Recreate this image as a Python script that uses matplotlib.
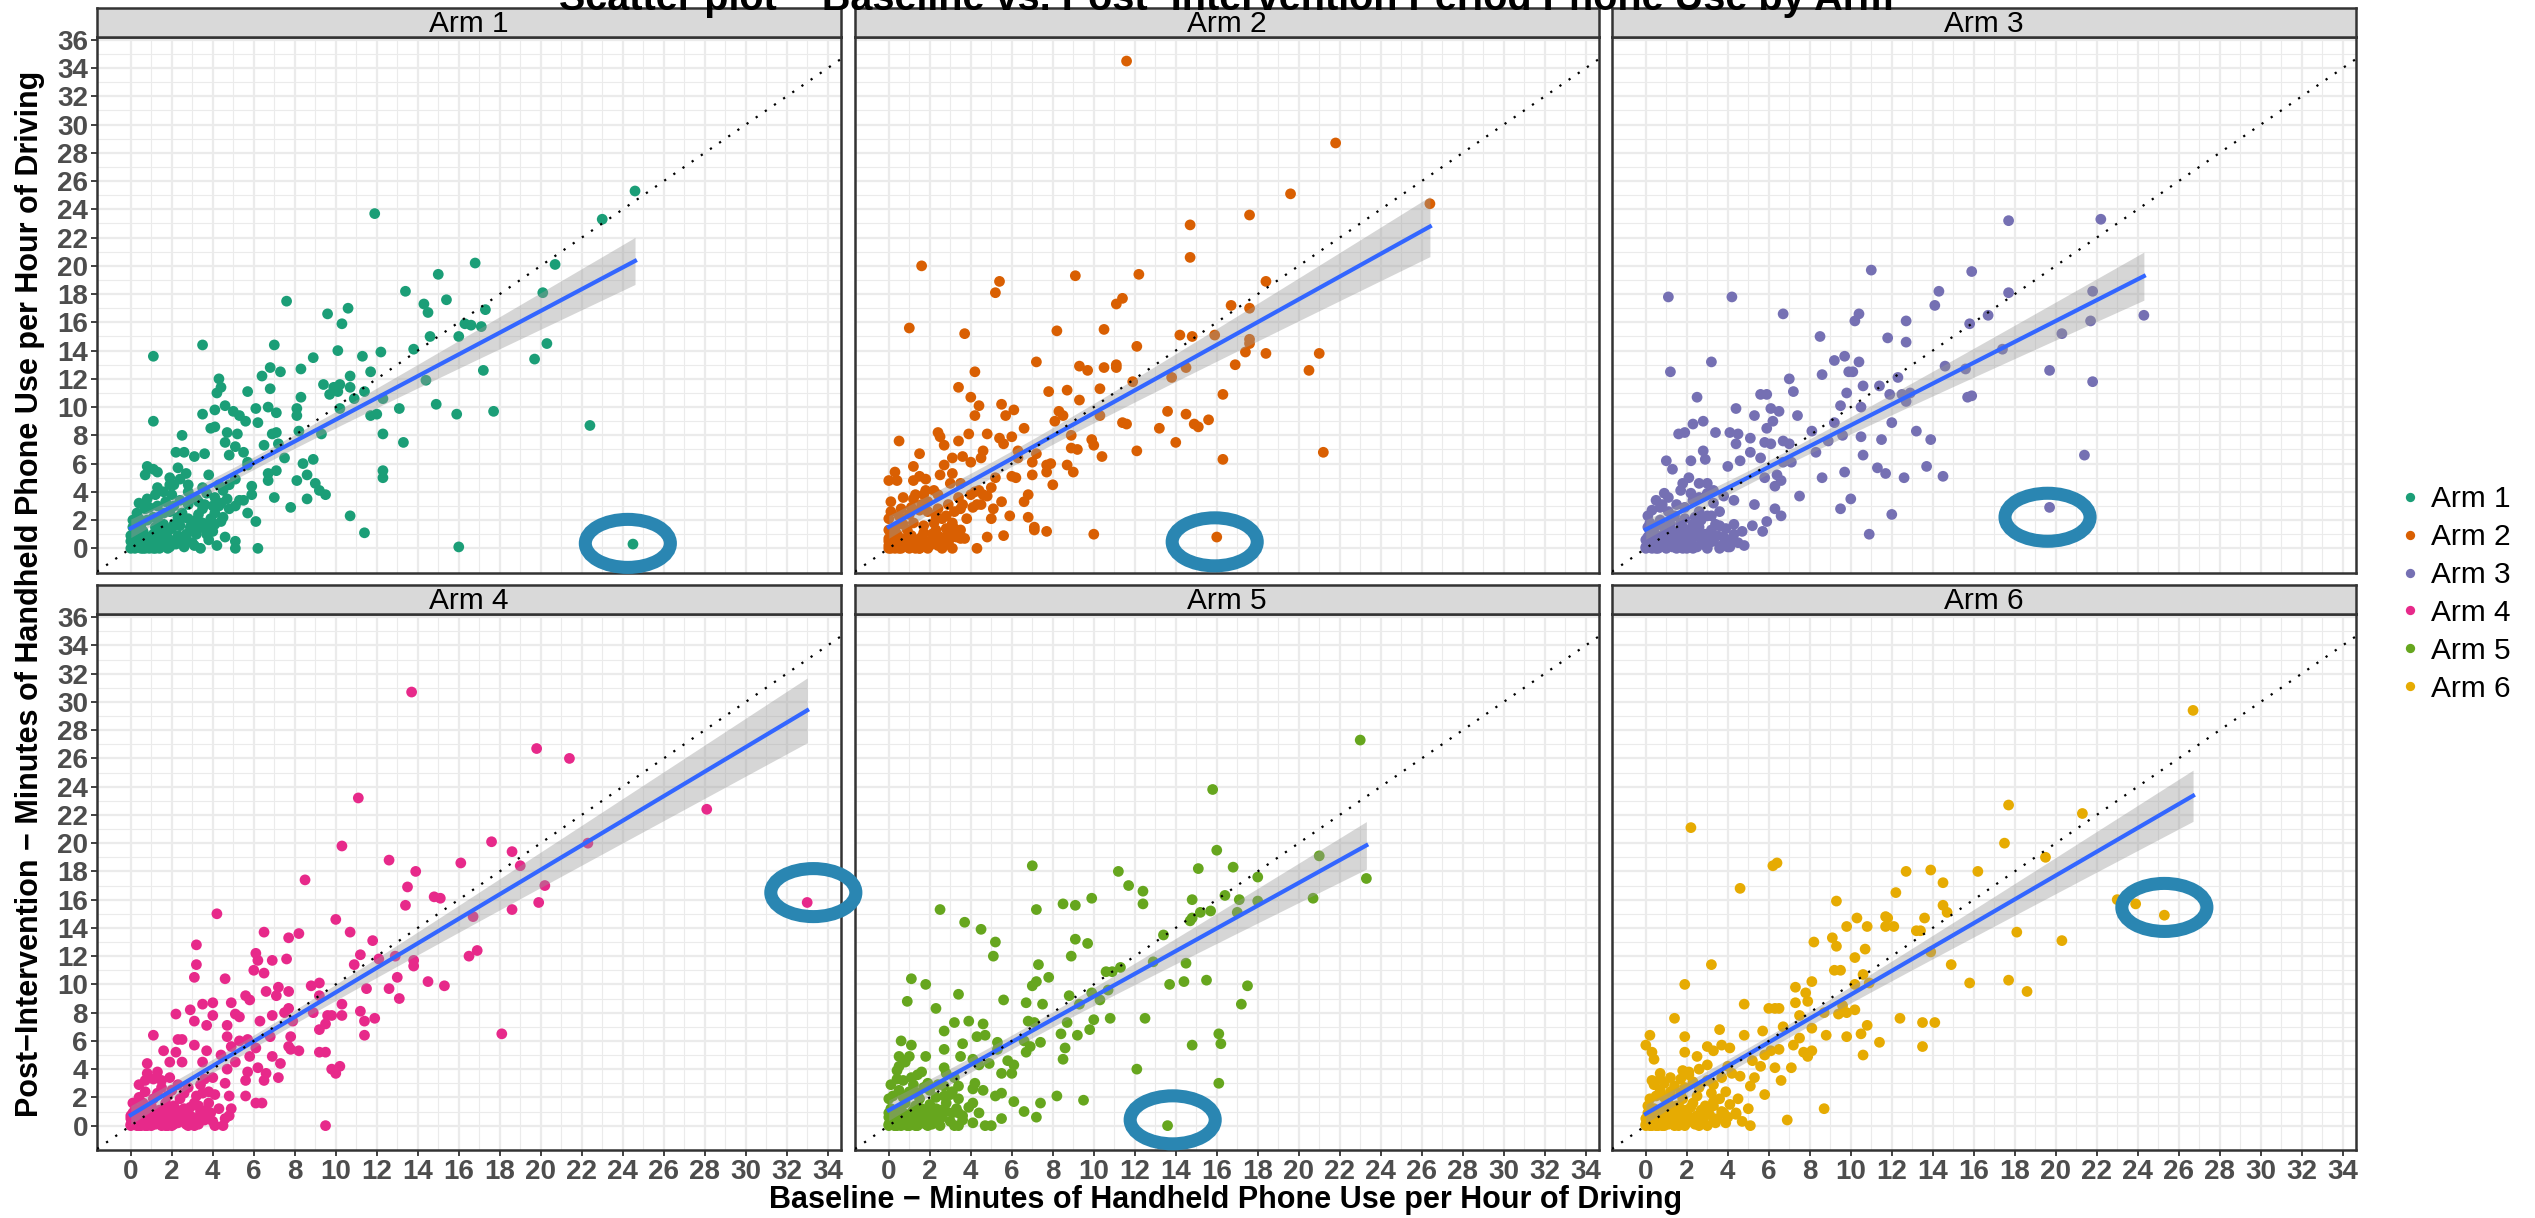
import numpy as np
import matplotlib.pyplot as plt
from matplotlib.patches import Ellipse
from matplotlib.lines import Line2D

plt.rcParams['font.family'] = ['Liberation Sans', 'DejaVu Sans']

arms = ['Arm 1', 'Arm 2', 'Arm 3', 'Arm 4', 'Arm 5', 'Arm 6']
arm_colors = ['#1B9E77', '#D95F02', '#7570B3', '#E7298A', '#66A61E', '#E6AB02']

# (baseline, post-intervention) minutes of handheld use per hour of driving
arm1 = np.array([
    (24.6, 25.3), (23.0, 23.3), (11.9, 23.7), (16.8, 20.2), (20.7, 20.1), (15.0, 19.4), (20.1, 18.1), (13.4, 18.2),
    (14.3, 17.3), (15.4, 17.6), (7.6, 17.5), (10.6, 17.0), (9.6, 16.6), (14.5, 16.7), (17.3, 16.9), (10.3, 15.9),
    (16.3, 15.9), (16.6, 15.8), (17.1, 15.7), (14.6, 15.0), (16.0, 15.0), (20.3, 14.5), (3.5, 14.4), (7.0, 14.4),
    (1.1, 13.6), (19.7, 13.4), (13.8, 14.1), (10.1, 14.0), (11.3, 13.6), (12.2, 13.9), (8.9, 13.5), (8.3, 12.7),
    (6.8, 12.8), (7.3, 12.5), (11.7, 12.5), (17.2, 12.6), (6.4, 12.2), (10.7, 12.2), (14.4, 11.9), (4.3, 12.0),
    (4.4, 11.4), (9.4, 11.6), (9.9, 11.4), (10.2, 11.6), (10.7, 11.4), (9.7, 10.9), (10.1, 11.1), (11.4, 11.1),
    (4.2, 11.0), (5.7, 11.1), (6.8, 11.3), (8.3, 10.7), (10.9, 10.6), (12.3, 10.6), (14.9, 10.2), (13.1, 9.9),
    (4.6, 10.1), (4.1, 9.8), (5.0, 9.7), (3.5, 9.5), (6.1, 9.9), (6.7, 10.0), (7.1, 9.6), (8.1, 9.9), (8.1, 9.4),
    (5.3, 9.4), (5.6, 9.0), (6.2, 8.9), (1.1, 9.0), (10.2, 9.9), (12.0, 9.5), (11.7, 9.4), (15.9, 9.5), (17.7, 9.7),
    (22.4, 8.7), (4.1, 8.6), (3.9, 8.5), (4.7, 8.2), (6.9, 8.1), (7.1, 8.2), (8.2, 8.3), (9.3, 8.1), (5.2, 8.1),
    (2.5, 8.0), (12.3, 8.1), (13.3, 7.5), (4.6, 7.5), (5.1, 7.2), (6.5, 7.3), (7.2, 7.4), (5.5, 6.8), (4.8, 6.6),
    (2.2, 6.8), (2.6, 6.8), (3.6, 6.7), (3.1, 6.5), (7.5, 6.4), (8.9, 6.3), (8.4, 6.0), (5.7, 6.1), (0.8, 5.8),
    (1.1, 5.6), (1.3, 5.4), (2.3, 5.7), (0.7, 5.2), (3.8, 5.2), (7.1, 5.5), (8.6, 5.2), (6.7, 5.3), (12.3, 5.5),
    (12.3, 5.0), (5.7, 5.9), (1.9, 5.0), (1.9, 4.5), (1.3, 4.3), (4.3, 4.5), (6.7, 4.8), (8.1, 4.8), (9.0, 4.6),
    (5.9, 4.4), (9.2, 4.1), (9.5, 3.8), (2.8, 4.0), (3.0, 3.6), (5.5, 3.4), (7.0, 3.6), (8.6, 3.5), (5.9, 3.8),
    (0.4, 3.2), (7.8, 2.9), (5.7, 2.5), (10.7, 2.3), (6.1, 1.9), (11.4, 1.1), (5.1, 0.5), (5.1, 0.0), (6.2, 0.0),
    (16.0, 0.1), (24.5, 0.3),
    (0.0, 0.5), (0.1, 0.1), (0.4, 0.2), (0.7, 0.0), (1.1, 0.0), (0.3, 1.0), (0.6, 1.2), (0.9, 0.8), (1.2, 1.5),
    (1.5, 1.0), (1.6, 0.6), (2.1, 0.5), (1.8, 1.2), (2.1, 1.7), (2.4, 2.0), (2.5, 2.5), (2.7, 1.0), (2.9, 1.5),
    (3.2, 2.0), (3.3, 2.4), (3.5, 2.8), (3.7, 1.0), (3.7, 1.5), (3.9, 2.1), (4.1, 1.7), (4.1, 2.5), (4.3, 3.0),
    (4.4, 3.2), (4.0, 3.0), (3.6, 3.1), (3.3, 3.3), (3.2, 3.5), (2.8, 3.1), (2.4, 3.4), (2.1, 3.0), (1.9, 2.6),
    (1.6, 2.5), (1.3, 2.1), (1.1, 2.2), (0.8, 2.0), (0.5, 1.7), (0.4, 2.1), (0.7, 2.8), (0.9, 2.9), (1.3, 3.0),
    (1.7, 3.3), (2.0, 3.8), (1.6, 4.0), (1.2, 3.8), (0.8, 3.5), (0.6, 3.1), (0.3, 2.5), (0.1, 1.5), (0.1, 2.0),
    (1.3, 0.2), (1.9, 0.1), (2.5, 0.5), (3.1, 0.2), (0.9, 0.5), (0.5, 0.6), (1.6, 1.7), (2.3, 2.2), (2.8, 2.1),
    (3.3, 1.4), (3.9, 1.5), (4.5, 2.2), (4.8, 2.8), (5.1, 3.0), (5.3, 3.4), (4.7, 3.5), (4.1, 3.6), (3.7, 3.9),
    (3.5, 4.3), (2.8, 4.5), (2.4, 4.9), (2.7, 5.3), (2.1, 4.5), (4.5, 4.1), (4.8, 4.5), (5.1, 4.9),
    (0.0, 0.0), (0.1, 0.3), (0.2, 0.0), (0.3, 0.6), (0.4, 0.3), (0.5, 0.0), (0.6, 0.4), (0.7, 0.8), (0.8, 0.2),
    (0.9, 0.0), (1.0, 0.5), (1.1, 1.0), (1.2, 0.3), (1.3, 0.7), (1.4, 0.0), (1.5, 1.3), (1.6, 0.4), (1.7, 0.9),
    (1.8, 0.0), (1.9, 0.6), (2.0, 1.4), (2.2, 0.3), (2.3, 0.9), (2.4, 1.6), (2.6, 0.1), (2.7, 0.7), (2.9, 1.2),
    (3.0, 0.4), (3.2, 1.0), (3.4, 0.0), (3.5, 1.8), (3.8, 0.6), (4.0, 1.2), (4.2, 0.2), (4.4, 1.9), (4.6, 0.8),
    (0.2, 1.2), (0.5, 1.4), (0.0, 0.9), (0.3, 0.1), (0.6, 0.0), (1.0, 0.2), (1.2, 0.0), (0.8, 0.6), (0.4, 0.5),
])

arm2 = np.array([
    (11.6, 34.5), (21.8, 28.7), (19.6, 25.1), (26.4, 24.4), (17.6, 23.6), (14.7, 22.9), (14.7, 20.6), (1.6, 20.0),
    (9.1, 19.3), (12.2, 19.4), (5.4, 18.9), (5.2, 18.1), (18.4, 18.9), (11.4, 17.7), (11.1, 17.3), (16.7, 17.2),
    (17.6, 17.0), (1.0, 15.6), (3.7, 15.2), (8.2, 15.4), (10.5, 15.5), (14.2, 15.1), (14.8, 15.0), (15.9, 15.1),
    (17.6, 14.8), (17.6, 14.5), (12.1, 14.3), (17.4, 13.9), (18.4, 13.8), (21.0, 13.8), (7.2, 13.2), (9.3, 12.9),
    (9.7, 12.6), (10.5, 12.8), (11.1, 13.0), (11.1, 12.8), (16.9, 13.0), (20.5, 12.6), (14.5, 12.8), (4.2, 12.5),
    (11.9, 11.8), (13.8, 12.1), (3.4, 11.4), (7.8, 11.1), (8.7, 11.2), (10.3, 11.3), (4.0, 10.7), (9.3, 10.5),
    (4.4, 10.1), (5.5, 10.2), (6.1, 9.8), (5.7, 9.4), (4.2, 9.4), (8.3, 9.7), (8.5, 9.4), (8.1, 9.0), (10.3, 9.4),
    (13.6, 9.7), (14.5, 9.5), (16.3, 10.9), (15.6, 9.1), (14.9, 8.8), (15.1, 8.6), (11.4, 8.9), (11.6, 8.8),
    (13.2, 8.5), (6.6, 8.5), (2.4, 8.2), (2.5, 7.9), (3.9, 8.1), (4.8, 8.1), (5.4, 7.8), (5.6, 7.4), (6.0, 7.9),
    (0.5, 7.6), (3.4, 7.6), (2.7, 7.3), (8.9, 8.0), (9.9, 7.7), (10.0, 7.3), (14.0, 7.5), (8.9, 7.1), (9.2, 7.0),
    (12.1, 6.9), (21.2, 6.8), (16.3, 6.3), (1.5, 6.7), (3.1, 6.4), (3.6, 6.5), (4.6, 6.9), (4.5, 6.4), (6.3, 6.9),
    (7.2, 6.7), (10.4, 6.5), (2.7, 5.9), (4.0, 6.1), (6.3, 6.4), (7.0, 6.1), (7.7, 5.9), (7.9, 6.0), (8.7, 5.9),
    (9.0, 5.4), (1.2, 5.8), (0.3, 5.4), (2.5, 5.2), (3.1, 5.3), (1.5, 5.1), (1.2, 4.8), (0.0, 4.8), (0.4, 4.8),
    (1.8, 4.9), (3.5, 4.6), (5.2, 5.0), (6.0, 5.1), (6.2, 5.0), (7.0, 5.2), (7.7, 5.4), (8.0, 4.5), (5.0, 4.3),
    (0.1, 3.3), (1.2, 3.5), (1.8, 4.1), (2.4, 3.8), (3.0, 4.6), (4.2, 4.0), (4.4, 4.1), (4.8, 3.7), (6.6, 3.3),
    (6.8, 3.8), (5.5, 3.3), (4.5, 3.1), (3.5, 2.8), (4.1, 2.9), (5.1, 2.8), (5.9, 2.3), (6.8, 2.2), (5.0, 2.1),
    (7.1, 1.5), (7.1, 1.3), (7.7, 1.2), (10.0, 1.0), (5.6, 0.9), (4.8, 0.8), (3.5, 0.7), (3.7, 0.7), (2.0, 0.2),
    (4.3, 0.0), (16.0, 0.8),
    (0.0, 0.0), (0.3, 0.3), (0.5, 0.0), (0.7, 0.2), (1.0, 0.0), (0.0, 0.5), (0.1, 0.8), (0.4, 1.0), (0.6, 0.7),
    (0.9, 1.3), (1.1, 0.9), (1.3, 0.5), (1.6, 0.8), (1.8, 0.3), (2.1, 1.0), (2.3, 1.3), (2.5, 0.8), (2.8, 1.4),
    (2.9, 1.0), (3.1, 1.8), (3.2, 1.4), (2.6, 2.1), (2.2, 1.8), (1.7, 1.6), (1.2, 1.8), (0.7, 1.7), (0.3, 1.4),
    (0.0, 2.1), (0.5, 2.3), (1.0, 2.4), (1.5, 2.7), (1.9, 2.6), (2.4, 2.8), (2.9, 3.1), (3.4, 3.6), (3.2, 2.6),
    (2.8, 2.3), (2.3, 2.3), (1.6, 3.1), (1.1, 2.9), (0.6, 2.8), (0.1, 2.6), (0.7, 3.6), (1.3, 3.8), (1.9, 3.3),
    (2.2, 4.1), (1.7, 3.8), (0.0, 1.3), (1.5, 0.0), (3.0, 0.7), (3.5, 1.3), (3.8, 2.1), (4.3, 3.1), (4.0, 3.8),
    (4.6, 3.8), (3.6, 3.1),
    (0.0, 0.2), (0.1, 0.0), (0.2, 0.4), (0.3, 0.0), (0.4, 0.7), (0.5, 0.3), (0.6, 0.0), (0.8, 0.5), (0.9, 0.1),
    (1.0, 0.9), (1.2, 0.2), (1.3, 0.0), (1.4, 0.6), (1.6, 0.2), (1.7, 1.1), (1.9, 0.0), (2.0, 0.5), (2.2, 0.9),
    (2.4, 0.2), (2.6, 0.0), (2.7, 0.6), (2.9, 0.3), (3.1, 0.0), (3.3, 0.8), (0.2, 0.9), (0.0, 0.7), (0.7, 0.3),
    (1.1, 0.4), (1.5, 0.0), (2.3, 0.4),
])

arm3 = np.array([
    (17.7, 23.2), (22.2, 23.3), (11.0, 19.7), (15.9, 19.6), (14.3, 18.2), (17.7, 18.1), (21.8, 18.2), (14.1, 17.2),
    (1.1, 17.8), (4.2, 17.8), (6.7, 16.6), (16.7, 16.5), (10.4, 16.6), (10.2, 16.1), (12.7, 16.1), (15.8, 15.9),
    (24.3, 16.5), (21.7, 16.1), (20.3, 15.2), (8.5, 15.0), (11.8, 14.9), (12.7, 14.6), (17.4, 14.1), (3.2, 13.2),
    (1.2, 12.5), (9.2, 13.3), (9.7, 13.6), (10.4, 13.2), (9.9, 12.5), (10.1, 12.5), (8.6, 12.3), (14.6, 12.9),
    (15.6, 12.7), (19.7, 12.6), (21.8, 11.8), (7.0, 12.0), (12.3, 12.1), (11.4, 11.5), (10.6, 11.5), (7.2, 11.1),
    (9.8, 11.0), (11.9, 10.9), (12.5, 10.9), (12.9, 11.0), (12.7, 10.4), (15.7, 10.7), (15.9, 10.8), (2.5, 10.7),
    (5.6, 10.9), (5.9, 10.9), (4.4, 9.9), (6.1, 9.9), (6.5, 9.7), (9.5, 10.1), (10.5, 10.0), (5.3, 9.4), (6.2, 9.0),
    (7.4, 9.4), (2.8, 9.0), (2.3, 8.8), (12.0, 8.9), (9.2, 8.9), (1.6, 8.1), (1.9, 8.2), (3.4, 8.2), (4.1, 8.2),
    (4.5, 8.1), (5.9, 8.5), (8.1, 8.3), (9.6, 8.0), (13.2, 8.3), (10.5, 7.9), (5.1, 7.8), (5.8, 7.5), (6.1, 7.4),
    (6.7, 7.6), (7.0, 7.4), (8.9, 7.6), (11.5, 7.7), (13.9, 7.7), (4.4, 7.4), (2.8, 6.9), (5.1, 6.8), (8.3, 6.8),
    (10.6, 6.6), (21.4, 6.6), (1.0, 6.2), (2.2, 6.2), (2.9, 6.3), (4.6, 6.2), (5.6, 6.4), (6.7, 6.1), (7.1, 6.1),
    (1.3, 5.6), (4.0, 5.8), (5.8, 5.0), (6.4, 5.2), (6.6, 4.8), (8.6, 5.0), (9.7, 5.4), (11.3, 5.7), (11.7, 5.3),
    (12.6, 5.0), (13.7, 5.8), (14.5, 5.1), (2.1, 5.0), (1.8, 4.6), (2.6, 4.6), (3.0, 4.6), (6.3, 4.4), (1.1, 3.6),
    (0.8, 3.1), (2.2, 3.9), (4.3, 3.4), (7.5, 3.7), (5.3, 3.1), (10.0, 3.5), (9.5, 2.8), (6.3, 2.8), (3.3, 3.2),
    (6.6, 2.3), (5.9, 1.9), (12.0, 2.4), (19.7, 2.9), (4.3, 1.7), (5.2, 1.6), (5.7, 1.2), (3.4, 1.7), (3.1, 0.8),
    (2.9, 0.7), (10.9, 1.0), (4.1, 0.1), (4.8, 0.2),
    (0.0, 0.1), (0.2, 0.3), (0.5, 0.0), (0.7, 0.2), (0.9, 0.1), (1.2, 0.3), (1.4, 0.1), (0.1, 0.8), (0.3, 1.1),
    (0.6, 0.6), (0.8, 0.9), (1.1, 0.7), (1.3, 1.2), (1.5, 0.8), (1.8, 1.5), (2.0, 1.1), (2.3, 1.7), (2.5, 1.3),
    (2.7, 2.0), (3.0, 2.3), (2.6, 2.6), (2.4, 2.2), (1.9, 2.1), (1.7, 1.8), (1.4, 2.3), (1.2, 1.7), (0.9, 1.5),
    (0.7, 2.0), (0.5, 1.6), (0.2, 1.8), (0.1, 2.3), (0.3, 2.7), (0.7, 2.9), (1.1, 2.6), (1.5, 3.1), (1.9, 2.9),
    (2.3, 3.4), (2.6, 3.6), (3.0, 3.9), (3.3, 4.1), (3.6, 2.6), (3.8, 3.7), (3.2, 2.3), (2.1, 0.6), (2.6, 0.8),
    (1.7, 0.2), (0.5, 3.4), (0.9, 3.9), (1.7, 4.1), (3.6, 1.6), (3.8, 0.8),
    (0.0, 0.0), (0.1, 0.4), (0.2, 0.1), (0.3, 0.7), (0.4, 0.2), (0.5, 0.5), (0.6, 0.0), (0.7, 0.6), (0.8, 0.3),
    (0.9, 1.0), (1.0, 0.0), (1.1, 0.4), (1.2, 0.9), (1.3, 0.1), (1.4, 0.6), (1.5, 0.0), (1.6, 1.1), (1.7, 0.5),
    (1.8, 0.2), (1.9, 0.8), (2.0, 0.0), (2.1, 1.3), (2.2, 0.4), (2.4, 0.9), (2.5, 0.1), (2.6, 1.5), (2.8, 0.3),
    (2.9, 1.0), (3.0, 0.0), (3.2, 1.3), (3.3, 0.5), (3.5, 0.9), (3.7, 0.2), (3.9, 1.4), (4.1, 0.6), (4.3, 1.0),
    (4.5, 0.4), (4.7, 1.2), (0.0, 0.6), (0.2, 1.0), (0.4, 1.3), (0.1, 1.5), (0.3, 0.0), (0.5, 0.9), (0.7, 0.1),
    (0.9, 0.4), (1.1, 1.3), (1.3, 0.7), (1.5, 0.4), (1.8, 0.0), (2.3, 0.0), (2.7, 0.6), (3.1, 0.4), (3.6, 0.0),
    (4.0, 0.1),
])

arm4 = np.array([
    (13.7, 30.7), (19.8, 26.7), (21.4, 26.0), (11.1, 23.2), (28.1, 22.4), (33.0, 15.8), (10.3, 19.8), (17.6, 20.1),
    (18.6, 19.4), (22.3, 20.0), (12.6, 18.8), (16.1, 18.6), (19.0, 18.4), (13.9, 18.0), (8.5, 17.4), (13.5, 16.9),
    (14.8, 16.2), (15.1, 16.1), (20.2, 17.0), (19.9, 15.8), (13.4, 15.6), (18.6, 15.3), (16.7, 14.8), (4.2, 15.0),
    (10.0, 14.6), (6.5, 13.7), (10.7, 13.7), (8.2, 13.6), (7.7, 13.3), (11.8, 13.1), (3.2, 12.8), (16.5, 12.0),
    (16.9, 12.4), (11.2, 12.1), (12.1, 11.8), (12.9, 12.0), (13.8, 11.7), (13.8, 11.3), (10.9, 11.4), (6.1, 12.2),
    (6.2, 11.7), (6.9, 11.7), (7.6, 11.8), (3.2, 11.4), (6.0, 11.0), (6.5, 10.8), (3.1, 10.5), (4.6, 10.4),
    (13.0, 10.5), (14.5, 10.2), (15.3, 9.9), (8.8, 9.9), (9.2, 10.1), (6.6, 9.5), (7.2, 9.8), (7.7, 9.5), (7.1, 9.2),
    (11.5, 9.7), (12.6, 9.7), (13.1, 9.0), (5.6, 9.2), (5.8, 8.9), (4.9, 8.7), (4.0, 8.7), (3.5, 8.6), (2.9, 8.2),
    (2.2, 7.9), (3.1, 7.4), (3.7, 7.1), (5.1, 7.9), (5.3, 7.7), (4.0, 7.8), (6.3, 7.4), (6.9, 7.8), (7.5, 8.0),
    (7.7, 8.3), (7.9, 7.4), (8.9, 8.0), (9.2, 9.2), (9.6, 7.8), (9.8, 7.8), (10.3, 8.6), (10.3, 7.8), (9.5, 7.2),
    (9.2, 6.8), (11.2, 8.1), (11.4, 7.4), (11.9, 7.6), (11.4, 6.4), (18.1, 6.5), (1.1, 6.4), (2.3, 6.1), (2.5, 6.1),
    (3.1, 5.7), (4.7, 7.1), (4.7, 6.3), (5.3, 6.0), (5.7, 6.1), (6.1, 5.5), (6.8, 6.3), (7.8, 6.3), (7.7, 5.6),
    (7.8, 5.4), (8.2, 5.3), (9.2, 5.2), (9.5, 5.2), (1.6, 5.3), (2.2, 5.2), (3.7, 5.3), (4.4, 5.0), (4.9, 5.6),
    (5.1, 4.5), (5.8, 4.9), (6.9, 4.9), (7.3, 4.4), (0.8, 4.4), (1.9, 4.5), (2.5, 4.5), (3.5, 4.5), (4.7, 4.0),
    (6.2, 4.1), (5.7, 3.8), (6.6, 3.7), (7.2, 3.4), (9.8, 4.0), (10.2, 4.2), (10.0, 3.7), (5.6, 3.2), (6.5, 3.2),
    (4.6, 3.0), (4.0, 3.4), (3.6, 3.3), (5.6, 2.1), (6.1, 1.6), (6.4, 1.6), (4.8, 2.1), (4.1, 2.2), (3.5, 2.3),
    (4.9, 1.2), (4.8, 0.7), (4.1, 0.0), (4.5, 0.0), (3.3, 0.1), (2.7, 0.1), (2.1, 0.1), (9.5, 0.0),
    (0.0, 0.1), (0.1, 0.3), (0.4, 0.0), (0.6, 0.2), (0.8, 0.0), (1.2, 0.1), (1.5, 0.2), (1.8, 0.0), (0.0, 0.7),
    (0.2, 1.1), (0.5, 0.6), (0.7, 0.9), (1.0, 1.4), (1.2, 0.7), (1.4, 1.1), (1.7, 1.6), (1.9, 0.9), (2.1, 1.4),
    (2.4, 1.9), (2.6, 1.2), (2.8, 0.9), (3.1, 1.6), (3.3, 1.4), (3.7, 1.1), (0.1, 1.6), (0.4, 2.0), (0.7, 2.4),
    (1.1, 1.9), (1.3, 2.3), (1.5, 2.7), (1.8, 2.1), (2.0, 2.5), (2.3, 2.9), (2.6, 2.3), (2.8, 2.7), (3.2, 2.1),
    (3.4, 2.9), (3.8, 2.4), (0.4, 2.9), (0.7, 3.2), (1.1, 3.3), (1.5, 3.2), (1.9, 3.4), (0.8, 3.7), (1.3, 3.8),
    (0.6, 1.6), (0.1, 0.9), (2.7, 0.5), (3.1, 0.2), (3.4, 0.6), (3.9, 0.9), (2.1, 0.5),
    (0.0, 0.0), (0.1, 0.4), (0.2, 0.1), (0.3, 0.6), (0.4, 0.3), (0.5, 0.0), (0.6, 0.5), (0.7, 0.1), (0.8, 0.8),
    (0.9, 0.3), (1.0, 0.0), (1.1, 0.6), (1.2, 1.0), (1.3, 0.2), (1.4, 0.5), (1.5, 0.0), (1.6, 0.9), (1.7, 0.3),
    (1.8, 1.2), (1.9, 0.5), (2.0, 0.0), (2.2, 0.8), (2.3, 0.2), (2.5, 1.1), (2.6, 0.4), (2.8, 0.0), (2.9, 1.3),
    (3.0, 0.6), (3.2, 0.2), (3.4, 1.0), (3.6, 0.4), (3.8, 1.6), (4.0, 0.3), (4.3, 1.2), (4.6, 0.5), (0.0, 0.5),
    (0.2, 0.8), (0.4, 1.1), (0.6, 1.3), (0.3, 0.0), (0.7, 0.0), (1.2, 0.4), (1.7, 0.0), (2.4, 0.6), (3.1, 0.0),
])

arm5 = np.array([
    (23.0, 27.3), (15.8, 23.8), (16.0, 19.5), (21.0, 19.1), (23.3, 17.5), (7.0, 18.4), (11.2, 18.0), (15.1, 18.2),
    (16.8, 18.3), (18.0, 17.6), (11.7, 17.0), (12.4, 16.6), (12.4, 15.7), (9.9, 16.1), (8.5, 15.7), (9.1, 15.6),
    (2.5, 15.3), (7.2, 15.3), (14.8, 16.0), (16.4, 16.3), (17.1, 16.0), (20.7, 16.1), (18.0, 15.9), (15.7, 15.2),
    (15.2, 15.1), (17.0, 15.1), (14.8, 14.7), (14.7, 14.5), (3.7, 14.4), (4.5, 13.9), (13.4, 13.5), (5.2, 13.0),
    (9.1, 13.2), (9.7, 12.9), (5.1, 12.0), (8.9, 12.0), (12.9, 11.6), (14.5, 11.5), (7.3, 11.4), (10.6, 10.9),
    (10.9, 10.9), (11.3, 11.2), (7.8, 10.5), (1.1, 10.4), (7.0, 9.9), (7.2, 10.2), (1.8, 10.0), (13.7, 10.0),
    (14.4, 10.2), (15.5, 10.3), (17.5, 9.9), (10.7, 9.6), (3.4, 9.3), (8.8, 9.2), (9.9, 9.4), (10.3, 8.9), (5.6, 8.9),
    (6.7, 8.7), (7.5, 8.6), (0.9, 8.8), (2.3, 8.3), (9.3, 8.6), (17.2, 8.6), (12.5, 7.6), (10.0, 7.5), (10.8, 7.6),
    (8.7, 7.3), (3.9, 7.4), (3.2, 7.3), (4.6, 7.2), (6.8, 7.4), (7.1, 7.3), (2.7, 6.7), (4.3, 6.3), (4.7, 6.4),
    (8.4, 6.5), (9.2, 6.4), (9.8, 6.8), (16.1, 6.5), (0.6, 6.0), (1.1, 5.7), (2.7, 5.4), (3.6, 5.8), (5.3, 5.9),
    (5.3, 5.4), (6.6, 6.0), (6.9, 5.6), (7.4, 5.9), (8.6, 5.5), (14.8, 5.7), (16.2, 5.8), (0.5, 4.9), (1.0, 4.9),
    (1.8, 4.9), (3.5, 4.9), (4.1, 4.7), (4.9, 4.4), (5.8, 4.6), (6.1, 4.3), (6.7, 5.2), (8.5, 4.7), (0.4, 3.9),
    (1.6, 3.8), (2.7, 4.1), (4.4, 4.3), (5.5, 3.7), (6.0, 3.7), (12.1, 4.0), (1.9, 3.0), (3.4, 2.8), (4.2, 3.0),
    (4.1, 2.6), (4.6, 2.5), (5.5, 2.3), (5.2, 2.1), (16.1, 3.0), (2.7, 2.1), (3.0, 2.2), (4.1, 1.6), (6.1, 1.7),
    (7.4, 1.6), (8.2, 2.1), (9.5, 1.8), (5.5, 0.5), (6.6, 1.0), (7.2, 0.6), (3.6, 0.7), (3.4, 0.0), (4.7, 0.0),
    (5.0, 0.0), (13.6, 0.0),
    (0.0, 0.1), (0.1, 0.3), (0.3, 0.0), (0.5, 0.2), (0.8, 0.1), (1.1, 0.2), (1.4, 0.0), (1.8, 0.1), (2.1, 0.1),
    (0.0, 0.9), (0.1, 1.2), (0.4, 0.7), (0.6, 1.1), (0.8, 1.6), (1.1, 0.9), (1.3, 1.4), (1.5, 1.9), (1.8, 1.1),
    (2.0, 1.5), (2.3, 2.0), (2.5, 1.1), (2.8, 1.6), (3.1, 0.9), (0.0, 1.9), (0.2, 2.1), (0.5, 2.5), (0.7, 2.0),
    (1.0, 2.4), (1.2, 2.9), (1.4, 2.3), (1.7, 2.7), (2.0, 2.5), (2.4, 2.9), (2.7, 2.8), (3.1, 2.4), (3.4, 1.9),
    (0.1, 2.9), (0.4, 3.3), (0.7, 3.2), (1.1, 3.4), (1.4, 3.6), (2.8, 3.7), (3.2, 3.4), (0.5, 4.2), (0.8, 4.5),
    (2.6, 0.9), (3.3, 1.2),
    (0.0, 0.0), (0.1, 0.5), (0.2, 0.2), (0.3, 0.8), (0.4, 0.0), (0.5, 0.5), (0.6, 0.2), (0.7, 0.9), (0.8, 0.4),
    (0.9, 0.0), (1.0, 0.7), (1.1, 0.3), (1.2, 1.1), (1.3, 0.0), (1.4, 0.6), (1.5, 0.3), (1.6, 1.2), (1.7, 0.5),
    (1.9, 0.0), (2.0, 0.8), (2.2, 0.3), (2.3, 1.2), (2.5, 0.0), (2.6, 0.6), (2.8, 1.0), (3.0, 0.3), (3.2, 0.0),
    (3.4, 0.9), (3.6, 0.4), (3.9, 1.3), (4.1, 0.2), (4.4, 0.9), (0.0, 0.6), (0.2, 1.0), (0.3, 0.0), (0.6, 0.0),
    (1.0, 0.0), (1.2, 0.5), (1.8, 0.3), (2.4, 0.6),
])

arm6 = np.array([
    (26.7, 29.4), (2.2, 21.1), (17.7, 22.7), (21.3, 22.1), (17.5, 20.0), (19.5, 19.0), (6.2, 18.4), (6.4, 18.6),
    (12.7, 18.0), (13.9, 18.1), (16.2, 18.0), (14.5, 17.2), (4.6, 16.8), (12.2, 16.5), (9.3, 15.9), (14.5, 15.6),
    (14.7, 15.1), (23.0, 16.0), (23.9, 15.7), (25.3, 14.9), (10.3, 14.7), (11.7, 14.8), (11.8, 14.7), (13.6, 14.7),
    (9.8, 14.1), (10.8, 14.1), (11.7, 14.1), (12.1, 14.1), (13.2, 13.8), (13.4, 13.8), (18.1, 13.7), (20.3, 13.1),
    (8.2, 13.0), (9.1, 13.3), (9.3, 12.7), (10.7, 12.5), (10.2, 11.9), (13.9, 12.3), (3.2, 11.4), (14.9, 11.4),
    (9.2, 11.0), (9.5, 11.0), (10.6, 10.7), (1.9, 10.0), (8.1, 10.2), (10.2, 10.0), (10.9, 10.1), (15.8, 10.1),
    (17.7, 10.3), (18.6, 9.5), (7.3, 9.8), (7.8, 9.4), (7.9, 8.8), (7.3, 8.7), (4.8, 8.6), (6.0, 8.3), (6.3, 8.3),
    (6.5, 8.3), (9.6, 8.5), (8.7, 8.0), (9.4, 7.9), (9.8, 8.0), (10.2, 8.2), (7.5, 7.8), (1.4, 7.6), (12.4, 7.6),
    (13.5, 7.3), (14.1, 7.3), (10.8, 7.1), (6.7, 7.0), (8.1, 6.9), (3.6, 6.8), (5.7, 6.7), (4.8, 6.4), (0.2, 6.4),
    (1.9, 6.3), (8.8, 6.4), (9.8, 6.3), (10.5, 6.5), (11.4, 5.9), (13.5, 5.6), (0.0, 5.7), (3.0, 5.6), (3.7, 5.7),
    (4.1, 5.5), (7.2, 5.7), (7.5, 6.2), (6.5, 5.4), (8.1, 5.3), (7.7, 5.2), (7.9, 4.9), (0.3, 5.2), (0.4, 4.7),
    (1.9, 5.2), (2.5, 4.9), (3.0, 4.3), (3.3, 5.3), (5.8, 5.0), (6.1, 5.3), (10.6, 5.0), (5.2, 4.6), (5.6, 4.2),
    (6.3, 4.1), (7.1, 4.1), (0.7, 3.7), (1.8, 3.9), (2.1, 3.8), (4.0, 4.2), (4.2, 3.7), (4.6, 3.5), (6.6, 3.2),
    (5.3, 3.4), (5.1, 2.8), (0.4, 2.9), (0.9, 3.0), (5.8, 2.2), (3.3, 1.7), (4.5, 1.9), (4.4, 0.9), (3.8, 0.9),
    (5.0, 1.2), (8.7, 1.2), (5.1, 0.0), (6.9, 0.4), (2.0, 0.2), (2.7, 0.7),
    (0.0, 0.1), (0.3, 0.3), (0.5, 0.0), (0.7, 0.2), (1.1, 0.1), (1.4, 0.3), (1.8, 0.1), (0.1, 0.9), (0.3, 1.2),
    (0.6, 0.7), (0.8, 1.1), (1.1, 1.6), (1.3, 0.9), (1.5, 1.4), (1.8, 1.9), (2.0, 1.1), (2.3, 1.6), (2.5, 2.1),
    (2.9, 1.4), (3.2, 2.3), (3.6, 1.9), (0.2, 1.9), (0.5, 2.1), (0.7, 2.5), (0.9, 2.0), (1.2, 2.4), (1.4, 2.8),
    (1.7, 2.3), (1.9, 2.7), (2.3, 3.1), (2.6, 2.7), (3.0, 3.2), (3.3, 2.9), (3.7, 3.4), (0.3, 3.2), (0.7, 3.3),
    (1.2, 3.4), (1.7, 3.3), (2.1, 3.6), (2.6, 4.0), (2.4, 0.6), (3.3, 0.5), (3.9, 2.4),
    (0.0, 0.0), (0.1, 0.3), (0.2, 0.0), (0.3, 0.6), (0.4, 0.2), (0.5, 0.4), (0.6, 0.0), (0.7, 0.7), (0.8, 0.3),
    (0.9, 0.0), (1.0, 0.6), (1.1, 1.0), (1.2, 0.2), (1.3, 0.5), (1.4, 0.0), (1.5, 0.9), (1.6, 0.3), (1.7, 1.2),
    (1.8, 0.6), (1.9, 0.0), (2.0, 0.9), (2.1, 0.4), (2.2, 1.3), (2.4, 0.1), (2.5, 0.7), (2.7, 1.1), (2.8, 0.3),
    (3.0, 0.0), (3.1, 0.8), (3.3, 1.4), (3.5, 0.5), (3.7, 1.0), (3.9, 0.2), (4.1, 1.5), (4.4, 0.8), (4.7, 0.3),
    (0.0, 0.5), (0.2, 0.9), (0.4, 1.2), (0.1, 1.4), (0.3, 0.0), (0.6, 1.0), (0.8, 0.0), (1.0, 0.2), (1.2, 0.7),
    (1.6, 0.0), (2.3, 0.5), (2.6, 0.0), (3.4, 0.2), (4.0, 0.6),
])

arm_data = [arm1, arm2, arm3, arm4, arm5, arm6]

# centres of the rings marking one participant per arm
flag_x = [24.25, 15.9, 19.6, 33.3, 13.85, 25.3]
flag_y = [0.35, 0.46, 2.2, 16.5, 0.41, 15.45]


def lm_band(x, y, xs):
    # ordinary least squares line with 95% confidence band
    n = len(x)
    b1, b0 = np.polyfit(x, y, 1)
    fit = b0 + b1 * xs
    resid = y - (b0 + b1 * x)
    s = np.sqrt(np.sum(resid ** 2) / (n - 2))
    se = s * np.sqrt(1 / n + (xs - x.mean()) ** 2 / np.sum((x - x.mean()) ** 2))
    return fit, fit - 1.97 * se, fit + 1.97 * se


W, H = 2535, 1218
fig = plt.figure(figsize=(W / 100, H / 100), dpi=100)

col_left = [97, 855, 1612]
row_top = [36.7, 614]
pw, ph, sh = 744, 536, 29

allx = np.concatenate([a[:, 0] for a in arm_data])
ally = np.concatenate([a[:, 1] for a in arm_data])
xpad = 0.05 * (allx.max() - allx.min())
ypad = 0.05 * (ally.max() - ally.min())
xlim = (allx.min() - xpad, allx.max() + xpad)
ylim = (ally.min() - ypad, ally.max() + ypad)

axes = []
for i, (name, col, pts) in enumerate(zip(arms, arm_colors, arm_data)):
    r, c = divmod(i, 3)
    left, top = col_left[c], row_top[r]
    ax = fig.add_axes([left / W, 1 - (top + ph) / H, pw / W, ph / H])
    axes.append(ax)

    x, y = pts[:, 0], pts[:, 1]
    ax.scatter(x, y, s=60, color=col, edgecolors='none', zorder=2)

    xs = np.linspace(x.min(), x.max(), 100)
    fit, lo, hi = lm_band(x, y, xs)
    ax.fill_between(xs, lo, hi, color='#999999', alpha=0.4, lw=0, zorder=3)
    ax.plot(xs, fit, color='#3366FF', lw=3.0, zorder=4)
    ax.axline((0, 0), slope=1, color='black', lw=1.6, linestyle=(0, (1, 4)), zorder=5)

    ax.set_xlim(xlim)
    ax.set_ylim(ylim)
    ax.set_xticks(np.arange(0, 35, 2))
    ax.set_xticks(np.arange(1, 35, 2), minor=True)
    ax.set_yticks(np.arange(0, 37, 2))
    ax.set_yticks(np.arange(1, 37, 2), minor=True)
    ax.set_axisbelow(True)
    ax.grid(which='major', color='#EBEBEB', lw=1.6)
    ax.grid(which='minor', color='#EBEBEB', lw=0.8)
    for sp in ax.spines.values():
        sp.set_color('#333333')
        sp.set_linewidth(1.8)
    ax.tick_params(which='major', length=4.5, width=1.3, color='#333333',
                   labelsize=20, labelcolor='#4D4D4D', pad=2)
    ax.tick_params(which='minor', length=0)
    for lb in ax.get_xticklabels() + ax.get_yticklabels():
        lb.set_fontweight('bold')
    if r == 0:
        ax.tick_params(axis='x', which='both', bottom=False, labelbottom=False)
    if c > 0:
        ax.tick_params(axis='y', which='both', left=False, labelleft=False)

    # facet strip
    sax = fig.add_axes([left / W, 1 - top / H, pw / W, sh / H])
    sax.set_facecolor('#D9D9D9')
    sax.set_xticks([])
    sax.set_yticks([])
    for sp in sax.spines.values():
        sp.set_color('#333333')
        sp.set_linewidth(1.8)
    sax.text(0.5, 0.45, name, ha='center', va='center', fontsize=21.5, transform=sax.transAxes)

# rings sit above all panels so they can cross panel edges
for ax, fx, fy in zip(axes, flag_x, flag_y):
    fig.add_artist(Ellipse((fx, fy), width=4.15, height=3.4, transform=ax.transData,
                           fill=False, ec='#2A86B2', lw=9.4, zorder=10))

fig.text(1226 / W, 1 - 10 / H,
         'Scatter plot \u2212 Baseline vs. Post\u2212Intervention Period Phone Use by Arm',
         ha='center', va='baseline', fontsize=28.5, fontweight='bold')
fig.text(1226 / W, 1 - 1200 / H,
         'Baseline \u2212 Minutes of Handheld Phone Use per Hour of Driving',
         ha='center', va='center', fontsize=22, fontweight='bold')
fig.text(30 / W, 1 - 594 / H,
         'Post\u2212Intervention \u2212 Minutes of Handheld Phone Use per Hour of Driving',
         ha='center', va='center', rotation=90, fontsize=22, fontweight='bold')

handles = [Line2D([], [], ls='', marker='o', ms=6.7, mfc=col, mec='none') for col in arm_colors]
fig.legend(handles, arms, loc='center left', bbox_to_anchor=(2401 / W, 1 - 594 / H),
           frameon=False, fontsize=21.5, handlelength=0.6, handletextpad=0.4,
           labelspacing=0.33, borderpad=0, borderaxespad=0)

fig.savefig('out.png', dpi=100)
